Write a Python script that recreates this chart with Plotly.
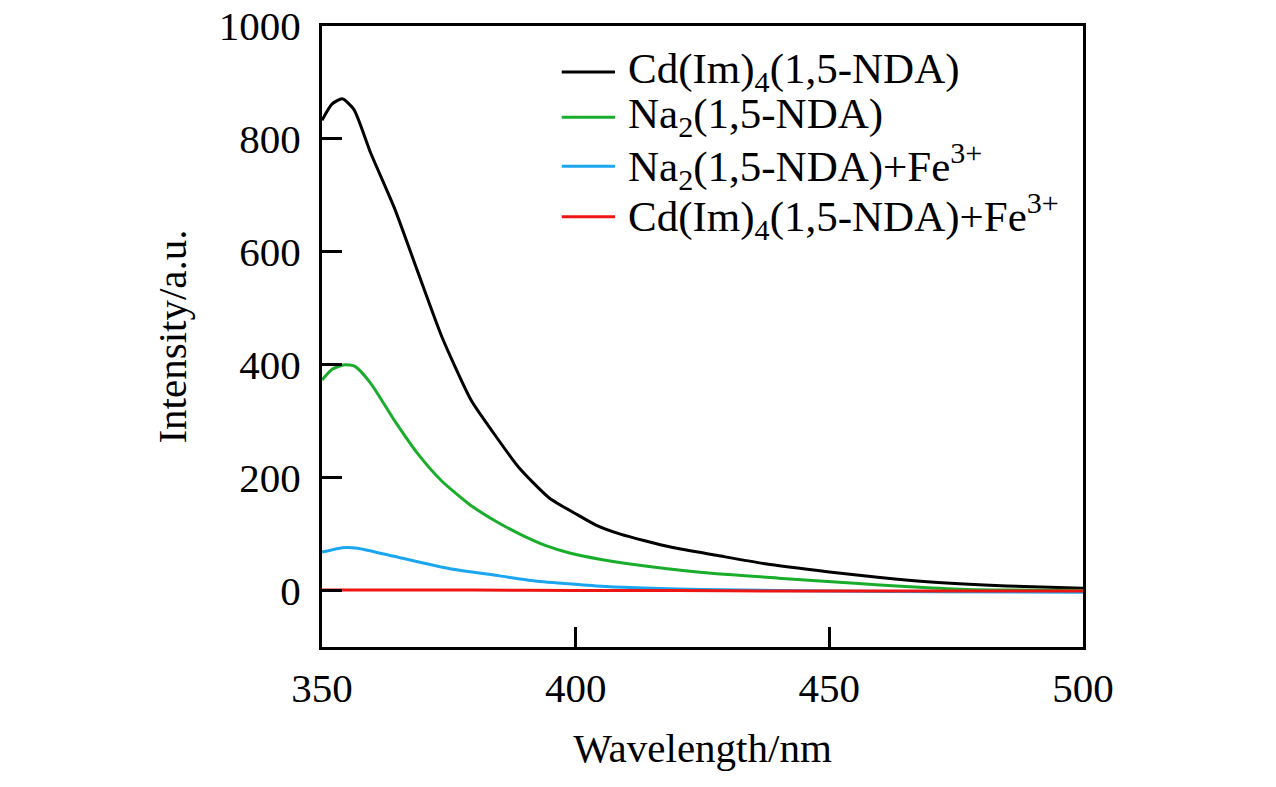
import plotly.graph_objects as go

# Fluorescence emission spectra
WL_CD = [350, 352, 354, 356.3, 359.6, 364.3, 368.9, 373.6, 379.4, 383.5, 388.8, 394.8,
         400, 404, 408.8, 418.7, 428, 437, 450, 460, 470, 485, 500]
I_CD = [833, 862, 871, 852, 775, 677, 564, 450, 337, 283, 218, 164,
        136, 116, 100, 77, 62, 48, 33, 23, 15, 8, 4]

WL_NA = [350, 352, 354.5, 356.5, 359.6, 364.3, 368.9, 373.6, 379, 384, 389, 394,
         399, 405, 410, 425, 440, 455, 465, 477, 500]
I_NA = [373, 392, 400, 397, 367, 301, 242, 194, 153, 124, 100, 80,
        66, 55, 48, 32, 22, 13, 7, 2, 0]

WL_NA_FE = [350, 354, 357, 365, 375, 385, 392, 400, 406, 415, 425, 440, 470, 500]
I_NA_FE = [68, 76, 75, 59, 39, 26, 17, 11, 7, 4, 2, 0, -2, -3]

WL_CD_FE = [350, 380, 400, 420, 440, 450, 470, 500]
I_CD_FE = [1, 1, 0, 0, -1, -1, -1, -1]

SERIES_NAMES = [
    "Cd(Im)<sub>4</sub>(1,5-NDA)",
    "Na<sub>2</sub>(1,5-NDA)",
    "Na<sub>2</sub>(1,5-NDA)+Fe<sup>3+</sup>",
    "Cd(Im)<sub>4</sub>(1,5-NDA)+Fe<sup>3+</sup>",
]
COLORS = ["#000000", "#1aad2c", "#1ca6f0", "#ee1515"]

X_TICKS = [350, 400, 450, 500]
Y_TICKS = [0, 200, 400, 600, 800, 1000]

FONT = "Times New Roman, Liberation Serif, serif"

fig = go.Figure()
data = [(WL_CD, I_CD), (WL_NA, I_NA), (WL_NA_FE, I_NA_FE), (WL_CD_FE, I_CD_FE)]
for (wl, inten), name, color in zip(data, SERIES_NAMES, COLORS):
    fig.add_trace(go.Scatter(
        x=wl, y=inten, name=name, mode="lines",
        line=dict(color=color, width=3, shape="spline", smoothing=0.6),
        showlegend=False,
    ))

# hand-made legend (longer sample lines than plotly's built-in one)
leg_x_line = (0.315, 0.385)
leg_x_text = 0.400
leg_y = [0.926, 0.853, 0.774, 0.693]
for name, color, yy in zip(SERIES_NAMES, COLORS, leg_y):
    fig.add_shape(type="line", xref="paper", yref="paper",
                  x0=leg_x_line[0], x1=leg_x_line[1], y0=yy, y1=yy,
                  line=dict(color=color, width=3))
    fig.add_annotation(xref="paper", yref="paper", x=leg_x_text, y=yy,
                       text=name, showarrow=False, xanchor="left", yanchor="middle",
                       font=dict(family=FONT, size=43, color="black"))

axis_style = dict(
    showgrid=False, zeroline=False, automargin=False, ticklabeloverflow="allow",
    showline=True, linecolor="black", linewidth=3, mirror=True,
    ticks="inside", ticklen=20, tickwidth=3, tickcolor="black",
    tickfont=dict(family=FONT, size=41, color="black"),
)

fig.update_xaxes(
    range=[350, 500], tickvals=X_TICKS, ticklabelstandoff=3,
    title=dict(text="Wavelength/nm", font=dict(family=FONT, size=41, color="black"), standoff=24),
    **axis_style,
)
fig.update_yaxes(
    range=[-100, 1000], tickvals=Y_TICKS, ticklabelstandoff=10,
    title=dict(text="Intensity/a.u.", font=dict(family=FONT, size=41, color="black"), standoff=20),
    **axis_style,
)

# page body has an 8px margin, so the figure is a bit smaller than the window
fig.update_layout(
    width=1260, height=771,
    margin=dict(l=314, r=185, t=18, b=132),
    plot_bgcolor="white", paper_bgcolor="white",
    font=dict(family=FONT, color="black"),
)

fig.write_html("out.html")
